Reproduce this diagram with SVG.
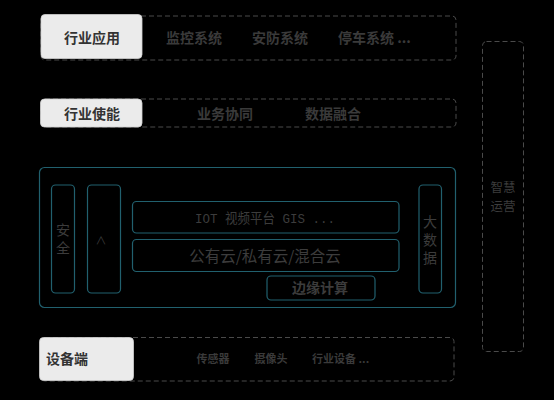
<svg xmlns="http://www.w3.org/2000/svg" width="554" height="400" viewBox="0 0 554 400">
<style>
.dash{fill:none;stroke:#4a4a4a;stroke-width:1;stroke-dasharray:5 3}
.lab{fill:#ebebeb;stroke:#cfcfcf;stroke-width:0.8}
.labt{font-family:"Noto Sans CJK SC",sans-serif;font-size:14px;font-weight:bold;fill:#333333}
.rowt{font-family:"Noto Sans CJK SC",sans-serif;font-size:14px;font-weight:bold;fill:#3a3a3a}
.small{font-family:"Noto Sans CJK SC",sans-serif;font-size:11px;font-weight:bold;fill:#3a3a3a}
.mid{text-anchor:middle}
.st{text-anchor:start}
.teal{fill:none;stroke:#21606e;stroke-width:1.2}
.tt{font-family:"Noto Sans CJK SC",sans-serif;fill:#3c3c3c;text-anchor:middle}
.vert{writing-mode:vertical-rl;letter-spacing:4px}
</style>
<rect width="554" height="400" fill="#000000"/>

<g id="row-app">
<rect class="dash" x="41" y="16" width="415" height="44" rx="4"/>
<rect class="lab" x="41" y="14.5" width="101" height="44" rx="4"/>
<text class="labt mid" x="92" y="43">行业应用</text>
<text class="rowt mid" x="194" y="43">监控系统</text>
<text class="rowt mid" x="280" y="43">安防系统</text>
<text class="rowt st" x="338" y="43">停车系统 ...</text>
</g>

<g id="row-enable">
<rect class="dash" x="41" y="99" width="415" height="28" rx="4"/>
<rect class="lab" x="40.5" y="99" width="101.5" height="28" rx="4"/>
<text class="labt mid" x="92" y="119">行业使能</text>
<text class="rowt mid" x="225" y="119">业务协同</text>
<text class="rowt mid" x="333" y="119">数据融合</text>
</g>

<g id="platform">
<rect class="teal" x="39.5" y="167.5" width="416" height="140" rx="5"/>
</g>
<g id="security">
<rect class="teal" x="51.5" y="185" width="23" height="108" rx="4"/>
<text class="tt vert" x="63" y="241" font-size="14">安全</text>
</g>
<g id="caret">
<rect class="teal" x="87.5" y="185" width="33" height="108" rx="4"/>
<text class="tt" x="101" y="245" font-size="11">∧</text>
</g>
<g id="iot">
<rect class="teal" x="132.5" y="201.5" width="266.5" height="31.5" rx="4"/>
<text x="265" y="223" text-anchor="middle" font-family="Liberation Mono, 'Noto Sans CJK SC', monospace" font-size="13.5" fill="#3c3c3c" textLength="140" lengthAdjust="spacingAndGlyphs">IOT 视频平台 GIS ...</text>
</g>
<g id="cloud">
<rect class="teal" x="132.5" y="239.5" width="266.5" height="32" rx="4"/>
<text class="tt" x="265" y="262" font-size="15.5">公有云/私有云/混合云</text>
</g>
<g id="edge">
<rect class="teal" x="267" y="276" width="108" height="24" rx="4"/>
<text class="tt" x="320" y="293" font-size="14" font-weight="bold">边缘计算</text>
</g>
<g id="bigdata">
<rect class="teal" x="419" y="185" width="22.5" height="108" rx="4"/>
<text class="tt vert" x="430" y="242" font-size="14">大数据</text>
</g>

<g id="row-device">
<rect class="dash" x="41" y="337.5" width="413" height="43.5" rx="4"/>
<rect class="lab" x="39.5" y="337.5" width="94" height="43" rx="4"/>
<text class="labt st" x="46" y="364">设备端</text>
<text class="small mid" x="213" y="363">传感器</text>
<text class="small mid" x="271" y="363">摄像头</text>
<text class="small st" x="312" y="363">行业设备 ...</text>
</g>

<g id="ops">
<rect class="dash" x="482.5" y="41.5" width="41" height="310" rx="4"/>
<text class="tt" font-size="12.5"><tspan x="503" y="192">智慧</tspan><tspan x="503" y="211">运营</tspan></text>
</g>

<g id="connectors"></g>
</svg>
